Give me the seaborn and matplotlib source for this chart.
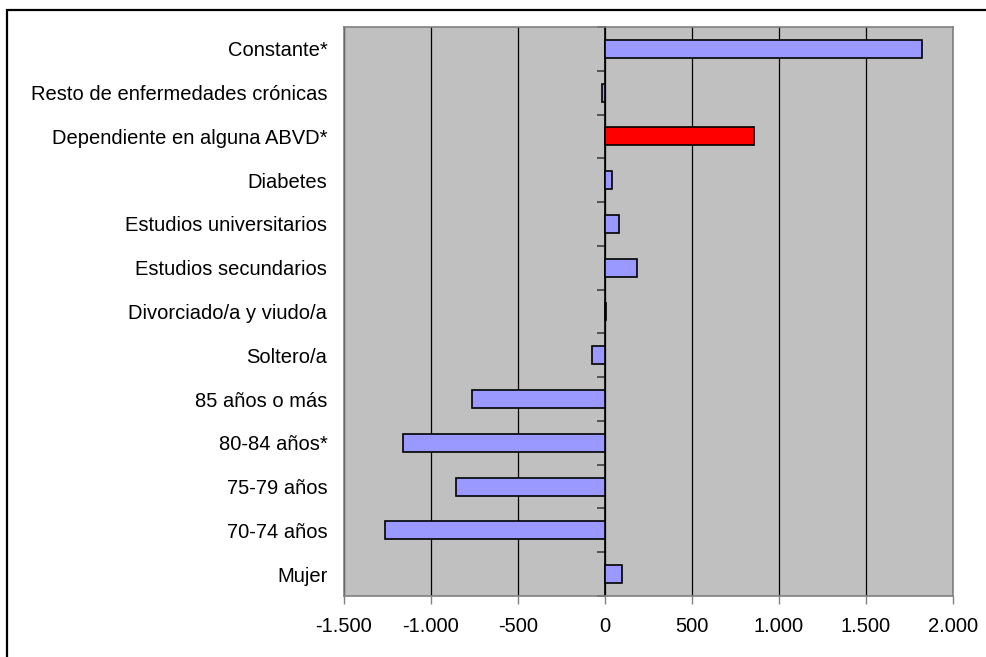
import matplotlib
matplotlib.use('Agg')
import matplotlib.pyplot as plt
import matplotlib.ticker as mticker
from matplotlib.patches import Rectangle
import seaborn as sns
import pandas as pd

# Data (top to bottom)
categories = [
    'Constante*', 'Resto de enfermedades crónicas', 'Dependiente en alguna ABVD*',
    'Diabetes', 'Estudios universitarios', 'Estudios secundarios',
    'Divorciado/a y viudo/a', 'Soltero/a', '85 años o más', '80-84 años*',
    '75-79 años', '70-74 años', 'Mujer',
]
values = [1825, -18, 858, 38, 83, 187, 8, -75, -767, -1163, -855, -1265, 96]
highlight = 'Dependiente en alguna ABVD*'

df = pd.DataFrame({'variable': categories, 'coef': values})
palette = {c: ('#FF0000' if c == highlight else '#9999FF') for c in categories}

sns.set_style('white')
plt.rcParams['font.family'] = ['Liberation Sans', 'DejaVu Sans']

fig = plt.figure(figsize=(9.87, 6.57), dpi=100)
ax = fig.add_axes([0.3485, 0.0929, 0.6170, 0.866])

sns.barplot(data=df, x='coef', y='variable', hue='variable', palette=palette,
            order=categories, orient='h', width=0.41, legend=False, saturation=1,
            edgecolor='black', linewidth=1.2, ax=ax, zorder=3)

ax.set_facecolor('#C0C0C0')
ax.set_xlim(-1500, 2000)
ax.set_ylim(len(categories) - 0.5, -0.5)
ax.set_xticks(range(-1500, 2001, 500))
ax.xaxis.set_major_formatter(mticker.FuncFormatter(
    lambda v, p: f'{int(v):,}'.replace(',', '.')))
ax.grid(axis='x', color='black', linewidth=0.9, zorder=1)
ax.set_axisbelow(True)
ax.set_xlabel('')
ax.set_ylabel('')

for s in ax.spines.values():
    s.set_color('#808080')
    s.set_linewidth(1.2)

ax.tick_params(axis='x', direction='out', length=6, width=1, color='#808080',
               labelsize=14.5, labelcolor='black', pad=9, bottom=True)
ax.tick_params(axis='y', length=0, labelsize=14.5, labelcolor='black', pad=12)

# vertical axis at zero with ticks between categories
zero_ax = ax.secondary_yaxis(1500 / 3500)
zero_ax.set_yticks([i + 0.5 for i in range(-1, len(categories))])
zero_ax.set_yticklabels([])
zero_ax.spines['left'].set_color('black')
zero_ax.spines['left'].set_linewidth(1.2)
zero_ax.tick_params(axis='y', direction='out', length=6, width=1.2, color='#404040')

# outer chart border
fig.patches.append(Rectangle((7 / 987, -0.05), 1.1, 0.9848 + 0.05,
                             transform=fig.transFigure, fill=False,
                             edgecolor='black', linewidth=1.6))

fig.savefig('out.png', dpi=100)
